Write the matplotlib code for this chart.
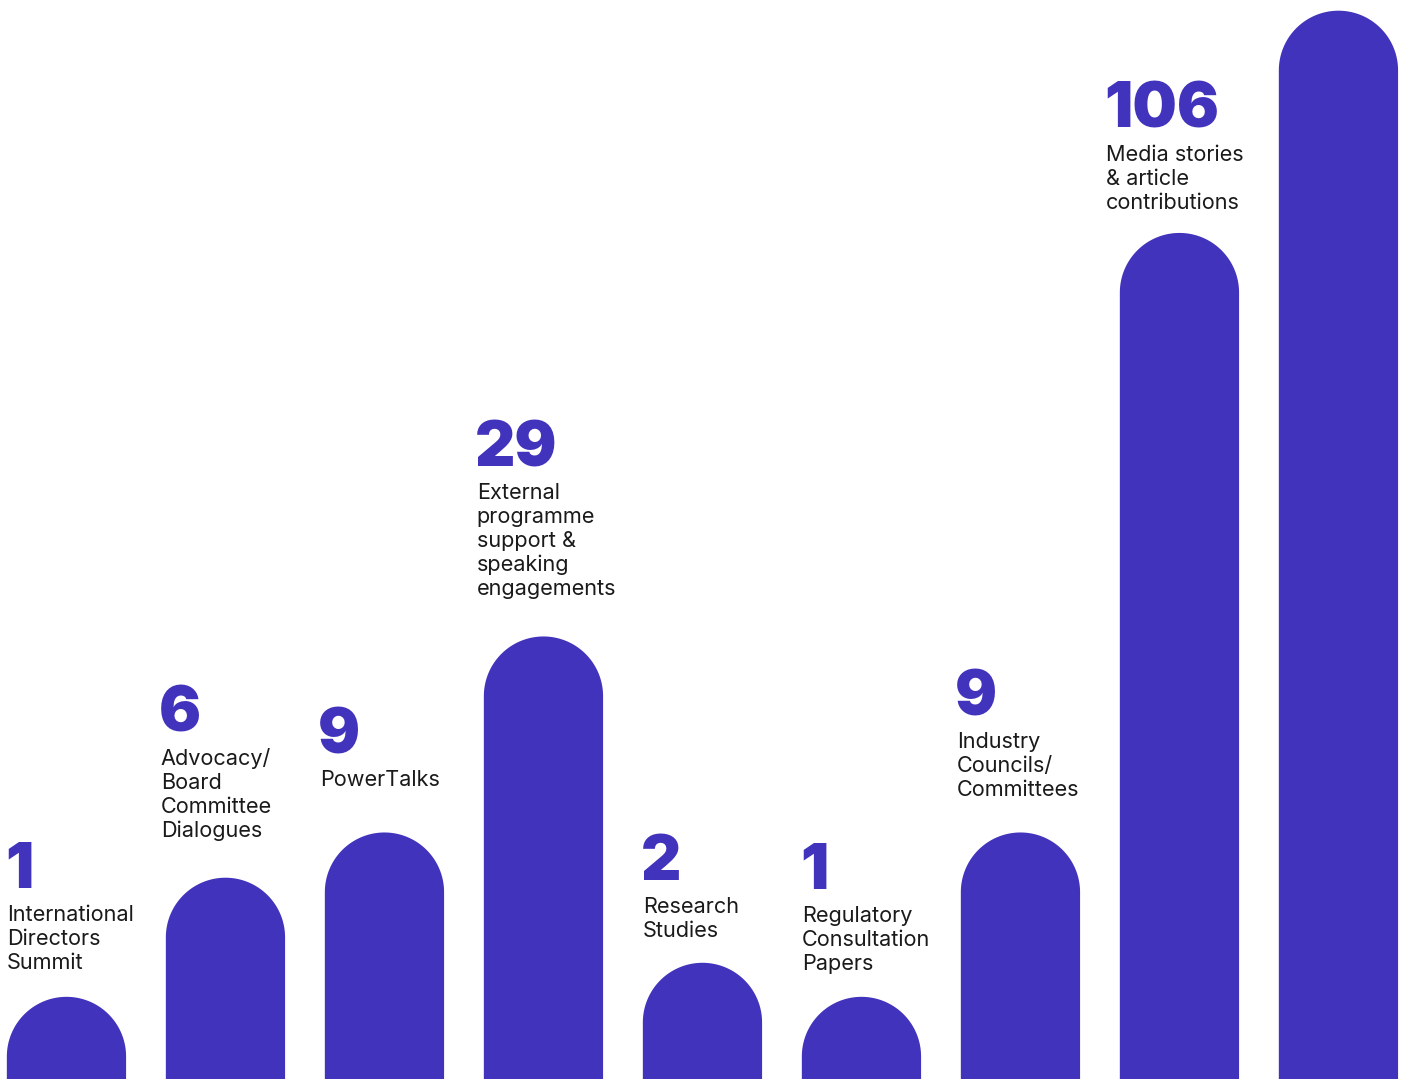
import numpy as np
import matplotlib
matplotlib.use("Agg")
import matplotlib.pyplot as plt
from matplotlib.patches import Polygon

# activity counts for the year
categories = [
    "International\nDirectors\nSummit",
    "Advocacy/\nBoard\nCommittee\nDialogues",
    "PowerTalks",
    "External\nprogramme\nsupport &\nspeaking\nengagements",
    "Research\nStudies",
    "Regulatory\nConsultation\nPapers",
    "Industry\nCouncils/\nCommittees",
    "Media stories\n& article\ncontributions",
    "",
]
values = [1, 6, 9, 29, 2, 1, 9, 106, 169]
value_labels = ["1", "6", "9", "29", "2", "1", "9", "106", ""]

BAR_COLOR = "#4233bc"
TEXT_COLOR = "#1a1a1a"
DPI = 100
W_PX, H_PX = 1410, 1079

# gap (px) between each label's last baseline and the bar top
label_pad = [28, 41, 46, 41, 26, 27, 36, 24, 30]
# small nudge of the text block to the left of the bar edge
label_dx = [0, -5, -5, -7, 0, 0, -4, -14, 0]

fig = plt.figure(figsize=(W_PX / DPI, H_PX / DPI), dpi=DPI)
ax = fig.add_axes([0, 0, 1, 1])
ax.set_axis_off()

# bar heights on a square-root scale
x = np.arange(len(values))
heights = np.sqrt(values)
xmin, xmax = -0.418, 8.45
ymin, ymax = 0, 13.13
ax.set_xlim(xmin, xmax)
ax.set_ylim(ymin, ymax)

width = 0.75
px_x = W_PX / (xmax - xmin)
px_y = H_PX / (ymax - ymin)
rx = width / 2
ry = rx * px_x / px_y  # keep the cap a true semicircle

theta = np.linspace(0, np.pi, 80)
for xi, h in zip(x, heights):
    cap = np.column_stack([xi + rx * np.cos(theta), h - ry + ry * np.sin(theta)])
    pts = np.vstack([[xi + rx, 0], cap, [xi - rx, 0]])
    ax.add_patch(Polygon(pts, closed=True, facecolor=BAR_COLOR, edgecolor="none"))

line_h = 24
for i, (xi, h) in enumerate(zip(x, heights)):
    if not value_labels[i]:
        continue
    lines = categories[i].split("\n")
    base = label_pad[i]
    n = len(lines)
    for k, line in enumerate(lines):
        ax.annotate(line, xy=(xi - rx, h), xytext=(label_dx[i], base + (n - 1 - k) * line_h),
                    textcoords="offset pixels", ha="left", va="baseline",
                    fontsize=15.6, family="Inter", color=TEXT_COLOR)
    top_base = base + (n - 1) * line_h
    ax.annotate(value_labels[i], xy=(xi - rx, h), xytext=(label_dx[i] - 2, top_base + 33),
                textcoords="offset pixels", ha="left", va="baseline",
                fontsize=45, family="Inter", fontweight="black", color=BAR_COLOR)

fig.savefig("out.png", dpi=DPI)
